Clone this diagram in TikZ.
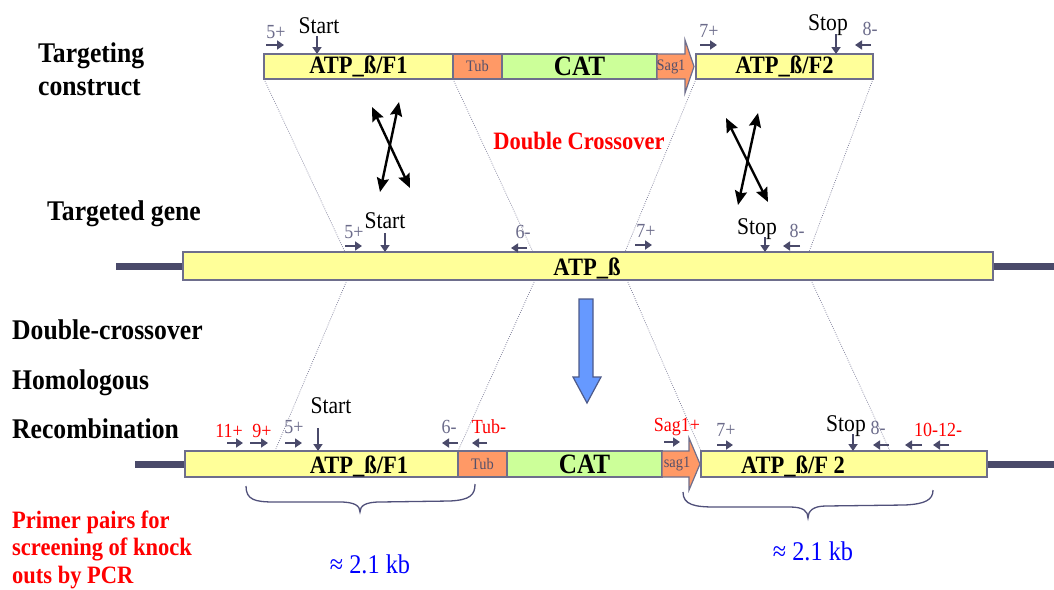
\documentclass[tikz,border=0pt]{standalone}
\usepackage{fontspec}
\setmainfont{Liberation Serif}[FakeStretch=0.9]
\usetikzlibrary{arrows.meta}

\definecolor{genefill}{HTML}{FFFF99}
\definecolor{tubfill}{HTML}{FF9966}
\definecolor{catfill}{HTML}{CCFF99}
\definecolor{barline}{HTML}{6E6E8C}
\definecolor{arrowcol}{HTML}{4A4A6A}
\definecolor{primergray}{HTML}{6B6B8A}
\definecolor{textdark}{HTML}{55506A}
\definecolor{dotcol}{HTML}{7A7A96}
\definecolor{bracecol}{HTML}{50507A}
\definecolor{kbblue}{HTML}{0000FF}
\definecolor{downfill}{HTML}{6699FF}
\definecolor{downline}{HTML}{4D5A8A}

\begin{document}
\begin{tikzpicture}[x=1pt, y=-1pt,
  bar/.style={draw=barline, line width=1.2pt, inner sep=0pt, outer sep=0pt,
    anchor=north west, font=\fontsize{25}{28}\selectfont\bfseries},
  barlab/.style={font=\fontsize{25}{28}\selectfont\bfseries, inner sep=0pt},
  side/.style={anchor=base west, inner sep=0pt, font=\fontsize{28.5}{32}\selectfont\bfseries},
  note/.style={anchor=base west, inner sep=0pt, text=red, font=\fontsize{25}{28}\selectfont\bfseries},
  plab/.style={anchor=base, inner sep=0pt, text=primergray, font=\fontsize{20}{22}\selectfont},
  rlab/.style={plab, text=red},
  sslab/.style={anchor=base, inner sep=0pt, font=\fontsize{24}{26}\selectfont},
  small/.style={font=\fontsize{16}{18}\selectfont, text=textdark, inner sep=0pt},
  parrow/.style={draw=arrowcol, line width=2.3pt, -{Triangle[length=7pt,width=9pt]}},
  xarrow/.style={draw=black, line width=2.4pt, {Stealth[length=14pt,width=12pt,inset=2pt]}-{Stealth[length=14pt,width=12pt,inset=2pt]}},
  dotl/.style={draw=dotcol, line width=0.7pt, dash pattern=on 0.8pt off 1.4pt},
  brace/.style={draw=bracecol, line width=1.3pt},
  kb/.style={anchor=base, inner sep=0pt, text=kbblue, font=\fontsize{27}{30}\selectfont},
  flank/.style={draw=arrowcol, line width=7pt},
  sagarrow/.style={draw=barline, line width=1.2pt, fill=tubfill}
]
\useasboundingbox (0,0) rectangle (1054,589);

% ---------- side captions ----------
\node[side] (cap1) at (38,62) {Targeting};
\node[side] (cap2) at (38,95) {construct};
\node[side] (cap3) at (47,220) {Targeted gene};
\node[side] (cap4) at (12,339) {Double-crossover};
\node[side] (cap5) at (12,389) {Homologous};
\node[side] (cap6) at (12,438) {Recombination};
\node[note] (pp1) at (12,528) {Primer pairs for};
\node[note] (pp2) at (12,555) {screening of knock};
\node[note] (pp3) at (12,583) {outs by PCR};

% ---------- anchor points on the genomic locus ----------
\coordinate (g1t) at (345,252);  \coordinate (g1b) at (347,280);
\coordinate (g2t) at (533,252);  \coordinate (g2b) at (535,280);
\coordinate (g3t) at (625,252);  \coordinate (g3b) at (627,280);
\coordinate (g4t) at (809,252);  \coordinate (g4b) at (811,280);
\coordinate (k1) at (275,451);   \coordinate (k4) at (890,451);

% ---------- homology guide lines ----------
\draw[dotl] (264,79) -- (g1t);
\draw[dotl] (453,79) -- (g2t);
\draw[dotl] (696,79) -- (g3t);
\draw[dotl] (873,79) -- (g4t);
\draw[dotl] (g1b) -- (k1);
\draw[dotl] (g2b) -- (458,451);
\draw[dotl] (g3b) -- (701,451);
\draw[dotl] (g4b) -- (k4);

% flanking chromosome
\draw[flank] (116,266) -- (183,266);
\draw[flank] (993,266) -- (1054,266);
\draw[flank] (135,464) -- (185,464);
\draw[flank] (987,464) -- (1054,464);

% ---------- targeting construct ----------
\node[bar, fill=genefill, minimum width=189pt, minimum height=25pt] (f1top) at (264,54) {ATP\_ß/F1};
\node[bar, fill=tubfill, minimum width=49pt, minimum height=25pt, font=\fontsize{16}{18}\selectfont, text=textdark] (tubtop) at (453,54) {Tub};
\node[bar, fill=catfill, minimum width=155pt, minimum height=25pt, font=\fontsize{28}{30}\selectfont\bfseries] (cattop) at (502,54) {CAT};
\draw[sagarrow] (657,54) -- (685,54) -- (685,40) -- (694,66.5) -- (685,93) -- (685,79) -- (657,79) -- cycle;
\node[small] (sagtop) at (671,66.5) {Sag1};
\node[bar, fill=genefill, minimum width=177pt, minimum height=25pt] (f2top) at (696,54) {ATP\_ß/F2};

% ---------- targeted gene ----------
\node[bar, fill=genefill, minimum width=810pt, minimum height=28pt] (gene) at (183,252) {};
\node[barlab] (genelab) at (587,268) {ATP\_ß};

% ---------- recombined locus ----------
\node[bar, fill=genefill, minimum width=273pt, minimum height=26pt] (f1bot) at (185,451) {};
\node[barlab] (f1botlab) at (359,466) {ATP\_ß/F1};
\node[bar, fill=tubfill, minimum width=49pt, minimum height=26pt, font=\fontsize{16}{18}\selectfont, text=textdark] (tubbot) at (458,451) {Tub};
\node[bar, fill=catfill, minimum width=155pt, minimum height=26pt, font=\fontsize{28}{30}\selectfont\bfseries] (catbot) at (507,451) {CAT};
\node[bar, fill=genefill, minimum width=286pt, minimum height=26pt] (f2bot) at (701,451) {};
\node[barlab] (f2botlab) at (793,466) {ATP\_ß/F 2};
\draw[sagarrow] (662,451) -- (689,451) -- (689,438) -- (700,464) -- (689,490) -- (689,477) -- (662,477) -- cycle;
\node[small] (sagbot) at (677,464) {sag1};

% ---------- primers on the construct ----------
\node[plab] (p5a) at (276,38) {5+};
\draw[parrow] (266,45) -- (284,45);
\node[sslab] (starta) at (319,33) {Start};
\draw[parrow] (317,36) -- (317,0 |- f1top.north);
\node[plab] (p7a) at (709,37) {7+};
\draw[parrow] (700,45) -- (717,45);
\node[sslab] (stopa) at (828,30) {Stop};
\draw[parrow] (836,34) -- (836,0 |- f2top.north);
\node[plab] (p8a) at (870,35) {8-};
\draw[parrow] (871,45) -- (855,45);

% ---------- primers on the gene ----------
\node[plab] (p5b) at (354,238) {5+};
\draw[parrow] (345,246) -- (362,246);
\node[sslab] (startb) at (385,228) {Start};
\draw[parrow] (385,233) -- (385,0 |- gene.north);
\node[plab] (p6b) at (523,238) {6-};
\draw[parrow] (527,248) -- (511,248);
\node[plab] (p7b) at (646,237) {7+};
\draw[parrow] (635,245) -- (652,245);
\node[sslab] (stopb) at (757,234) {Stop};
\draw[parrow] (765,237) -- (765,0 |- gene.north);
\node[plab] (p8b) at (797,237) {8-};
\draw[parrow] (800,246) -- (783,246);

% ---------- primers on the recombined locus ----------
\node[rlab] (p11c) at (229,437) {11+};
\draw[parrow] (227,443) -- (243,443);
\node[rlab] (p9c) at (262,437) {9+};
\draw[parrow] (250,443) -- (268,443);
\node[plab] (p5c) at (294,433) {5+};
\draw[parrow] (285,443) -- (302,443);
\node[sslab] (startc) at (331,413) {Start};
\draw[parrow] (318,428) -- (318,0 |- f1bot.north);
\node[plab] (p6c) at (449,433) {6-};
\draw[parrow] (458,443) -- (442,443);
\node[rlab] (ptubc) at (489,433) {Tub-};
\draw[parrow] (487,443) -- (472,443);
\node[rlab] (psagc) at (677,431) {Sag1+};
\draw[parrow] (664,442) -- (680,442);
\node[plab] (p7c) at (726,436) {7+};
\draw[parrow] (717,445) -- (733,445);
\node[sslab] (stopc) at (846,431) {Stop};
\draw[parrow] (853,434) -- (853,0 |- f2bot.north);
\node[plab] (p8c) at (878,434) {8-};
\draw[parrow] (889,445) -- (873,445);
\node[rlab] (p1012c) at (938,436) {10-12-};
\draw[parrow] (922,445) -- (905,445);
\draw[parrow] (949,445) -- (933,445);

% ---------- crossover arrows ----------
\draw[xarrow] (372,107) -- (410,188);
\draw[xarrow] (399,102) -- (380,192);
\draw[xarrow] (726,118) -- (768,202);
\draw[xarrow] (758,113) -- (738,205);
\node[anchor=base, inner sep=0pt, text=red, font=\fontsize{25}{28}\selectfont\bfseries] (dc) at (579,149) {Double Crossover};

% ---------- recombination arrow ----------
\draw[draw=downline, line width=1.2pt, fill=downfill]
  (579,299) -- (593,299) -- (593,377) -- (601,377) -- (587,403) -- (573,377) -- (579,377) -- cycle;

% ---------- PCR product braces ----------
\draw[brace] (246,486) .. controls (246,500) and (255,502) .. (275,502) -- (340,502)
  .. controls (355,502) and (360,506) .. (360,512)
  .. controls (360,506) and (365,502) .. (380,502) -- (450,501)
  .. controls (470,500) and (475,495) .. (475,484);
\draw[brace] (683,492) .. controls (683,505) and (695,507) .. (715,507) -- (790,507)
  .. controls (803,507) and (808,511) .. (808,518)
  .. controls (808,511) and (813,506) .. (826,506) -- (905,505)
  .. controls (925,504) and (933,500) .. (933,490);
\node[kb] (kb1) at (370,573) {≈ 2.1 kb};
\node[kb] (kb2) at (813,560) {≈ 2.1 kb};
\end{tikzpicture}
\end{document}
